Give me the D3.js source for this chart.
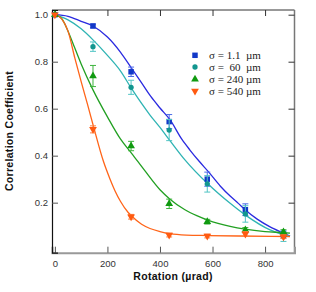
<!DOCTYPE html>
<html>
<head>
<meta charset="utf-8">
<script src="https://cdn.jsdelivr.net/npm/d3@7"></script>
<style>
  body { margin: 0; background: #fff; }
  text { font-family: "Liberation Sans", Arial, sans-serif; }
</style>
</head>
<body>
<div id="chart"></div>
<script>
// measured rotations (µrad) and correlation coefficients
const rotations = [0, 145, 290, 435, 580, 725, 870];
const blueVals = [1.0, 0.952, 0.757, 0.545, 0.30, 0.17, 0.065];
const blueErr = [0.005, 0.008, 0.02, 0.03, 0.03, 0.025, 0.015];
const tealVals = [1.0, 0.864, 0.691, 0.509, 0.28, 0.152, 0.055];
const tealErr = [0.005, 0.02, 0.03, 0.045, 0.035, 0.035, 0.02];
const greenVals = [1.0, 0.739, 0.441, 0.195, 0.119, 0.084, 0.075];
const greenErr = [0.005, 0.045, 0.02, 0.02, 0.01, 0.01, 0.01];
const orangeVals = [1.0, 0.512, 0.14, 0.062, 0.058, 0.067, 0.055];
const orangeErr = [0.005, 0.015, 0.01, 0.008, 0.008, 0.01, 0.008];

// fitted curves as [rotation, coefficient]
const blueFit = [[0,1.0],[50,0.993],[100,0.972],[145,0.952],[200,0.905],[250,0.84],[292,0.772],[330,0.71],[365,0.652],[400,0.603],[438,0.553],[483,0.47],[514,0.424],[550,0.375],[584,0.332],[630,0.27],[667,0.228],[698,0.197],[724,0.17],[770,0.13],[819,0.097],[860,0.075],[895,0.058]];
const tealFit = [[0,1.0],[50,0.978],[100,0.94],[145,0.893],[200,0.827],[250,0.76],[292,0.685],[362,0.573],[400,0.52],[438,0.464],[495,0.382],[584,0.278],[667,0.197],[724,0.148],[819,0.084],[872,0.063],[895,0.058]];
const greenFit = [[0,1.0],[25,0.985],[50,0.93],[75,0.86],[100,0.79],[145,0.68],[200,0.565],[250,0.47],[292,0.41],[343,0.335],[400,0.255],[438,0.215],[495,0.17],[540,0.145],[582,0.126],[667,0.099],[724,0.087],[800,0.077],[872,0.072],[895,0.07]];
const orangeFit = [[0,1.0],[25,0.983],[50,0.93],[76,0.815],[100,0.715],[125,0.615],[148,0.52],[185,0.375],[210,0.3],[229,0.25],[250,0.205],[279,0.158],[292,0.143],[330,0.108],[362,0.09],[400,0.077],[438,0.068],[500,0.062],[582,0.06],[700,0.058],[895,0.056]];

const legendLabels = ["σ = 1.1  µm", "σ =  60  µm", "σ = 240 µm", "σ = 540 µm"];
const xTicks = [0, 200, 400, 600, 800];
const yTicks = [0.2, 0.4, 0.6, 0.8, 1.0];

const W = 316, H = 292;
const svg = d3.select("#chart").append("svg")
  .attr("width", W).attr("height", H);

const x = d3.scaleLinear().domain([-11, 912]).range([52, 294.5]);
const y = d3.scaleLinear().domain([-0.013, 1.02]).range([252.7, 10]);

const series = [
  {vals: blueVals, err: blueErr, fit: blueFit, line: "#2a2ae0", mark: "#1238c8", bar: "#4a6ae8", sym: d3.symbolSquare, size: 30, rot: 0},
  {vals: tealVals, err: tealErr, fit: tealFit, line: "#2fb4b4", mark: "#12968f", bar: "#50c4c4", sym: d3.symbolCircle, size: 22, rot: 0},
  {vals: greenVals, err: greenErr, fit: greenFit, line: "#22a022", mark: "#109a10", bar: "#3cb43c", sym: d3.symbolTriangle, size: 26, rot: 0},
  {vals: orangeVals, err: orangeErr, fit: orangeFit, line: "#ff6418", mark: "#ff5a10", bar: "#ff8040", sym: d3.symbolTriangle, size: 26, rot: 180}
];

// frame
svg.append("line").attr("x1", 52).attr("x2", 294.5).attr("y1", 10).attr("y2", 10)
  .attr("stroke", "#333").attr("stroke-width", 1);
svg.append("line").attr("x1", 294.5).attr("x2", 294.5).attr("y1", 10).attr("y2", 253)
  .attr("stroke", "#777").attr("stroke-width", 1.5);

// bottom axis, ticks pointing inward
const xAxis = svg.append("g").attr("transform", "translate(0,252.7)")
  .call(d3.axisBottom(x).tickValues(xTicks).tickSize(-6).tickPadding(6));
xAxis.select(".domain").attr("stroke", "#999").attr("stroke-width", 2);
xAxis.selectAll(".tick line").attr("stroke", "#555");
xAxis.selectAll("text").attr("font-size", 9.5).attr("fill", "#333").attr("dy", "0.9em");

// top ticks
const xTop = svg.append("g").attr("transform", "translate(0,10)")
  .call(d3.axisTop(x).tickValues(xTicks).tickSize(-6).tickFormat(""));
xTop.select(".domain").remove();
xTop.selectAll(".tick line").attr("stroke", "#333");

// left axis
const yAxis = svg.append("g").attr("transform", "translate(52,0)")
  .call(d3.axisLeft(y).tickValues(yTicks).tickSize(-6).tickPadding(4).tickFormat(d3.format(".1f")));
yAxis.select(".domain").attr("stroke", "#111").attr("stroke-width", 1.2);
yAxis.selectAll(".tick line").attr("stroke", "#555");
yAxis.selectAll("text").attr("font-size", 9.5).attr("fill", "#333");

// right ticks
const yRight = svg.append("g").attr("transform", "translate(294.5,0)")
  .call(d3.axisRight(y).tickValues(yTicks).tickSize(-6).tickFormat(""));
yRight.select(".domain").remove();
yRight.selectAll(".tick line").attr("stroke", "#333");

// fitted curves
const line = d3.line().x(d => x(d[0])).y(d => y(d[1])).curve(d3.curveMonotoneX);
series.forEach(s => {
  svg.append("path").datum(s.fit)
    .attr("d", line).attr("fill", "none")
    .attr("stroke", s.line).attr("stroke-width", 1.3);
});

// error bars and markers
series.forEach(s => {
  const pts = rotations.map((r, i) => ({r: r, v: s.vals[i], e: s.err[i]}));
  const g = svg.append("g");
  const eb = g.selectAll("g.eb").data(pts.filter(d => d.r > 0)).join("g")
    .attr("stroke", s.bar).attr("stroke-width", 1);
  eb.append("line")
    .attr("x1", d => x(d.r)).attr("x2", d => x(d.r))
    .attr("y1", d => y(d.v - d.e)).attr("y2", d => y(d.v + d.e));
  eb.append("line")
    .attr("x1", d => x(d.r) - 3).attr("x2", d => x(d.r) + 3)
    .attr("y1", d => y(d.v - d.e)).attr("y2", d => y(d.v - d.e));
  eb.append("line")
    .attr("x1", d => x(d.r) - 3).attr("x2", d => x(d.r) + 3)
    .attr("y1", d => y(d.v + d.e)).attr("y2", d => y(d.v + d.e));
  g.selectAll("path").data(pts).join("path")
    .attr("d", d3.symbol().type(s.sym).size(s.size))
    .attr("transform", d => `translate(${x(d.r)},${y(d.v)}) rotate(${s.rot})`)
    .attr("fill", s.mark);
});

// legend
const legendY = [55.3, 67, 79.3, 91];
series.forEach((s, i) => {
  svg.append("path")
    .attr("d", d3.symbol().type(s.sym).size(s.size))
    .attr("transform", `translate(195,${legendY[i]}) rotate(${s.rot})`)
    .attr("fill", s.mark);
  svg.append("text")
    .attr("x", 209).attr("y", legendY[i]).attr("dy", "0.35em")
    .attr("font-family", "'Liberation Serif', 'Times New Roman', serif")
    .style("font-family", "'Liberation Serif', 'Times New Roman', serif")
    .attr("font-size", 11).attr("fill", "#222")
    .style("white-space", "pre")
    .text(legendLabels[i]);
});

// axis titles
svg.append("text")
  .attr("x", 173).attr("y", 280).attr("text-anchor", "middle")
  .attr("font-size", 10.5).attr("font-weight", "bold").attr("letter-spacing", 0.3)
  .attr("fill", "#111").text("Rotation (µrad)");
svg.append("text")
  .attr("transform", "translate(13,131) rotate(-90)").attr("text-anchor", "middle")
  .attr("font-size", 10.5).attr("font-weight", "bold").attr("letter-spacing", 0.3)
  .attr("fill", "#111").text("Correlation Coefficient");
</script>
</body>
</html>
